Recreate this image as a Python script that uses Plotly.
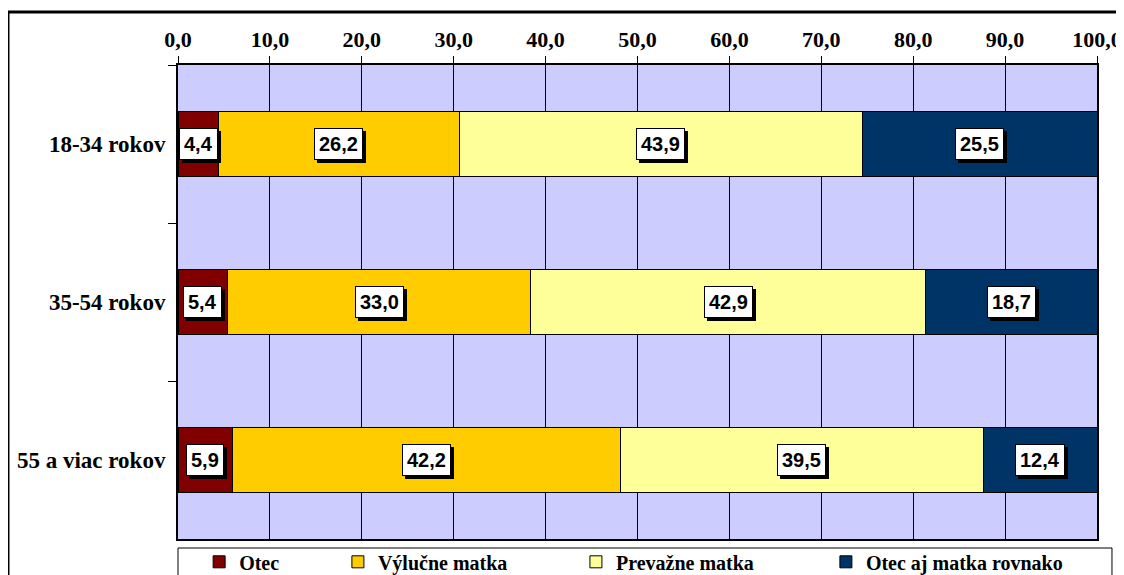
import plotly.graph_objects as go

categories = ["18-34 rokov", "35-54 rokov", "55 a viac rokov"]
series_names = ["Otec", "Výlučne matka", "Prevažne matka", "Otec aj matka rovnako"]
otec = [4.4, 5.4, 5.9]
vylucne_matka = [26.2, 33.0, 42.2]
prevazne_matka = [43.9, 42.9, 39.5]
rovnako = [25.5, 18.7, 12.4]
tick_vals = [0, 10, 20, 30, 40, 50, 60, 70, 80, 90, 100]
tick_text = ["0,0", "10,0", "20,0", "30,0", "40,0", "50,0", "60,0", "70,0", "80,0", "90,0", "100,0"]

series = [otec, vylucne_matka, prevazne_matka, rovnako]
colors = ["#800000", "#FFCC00", "#FFFF99", "#003366"]
legend_ids = ["legend", "legend2", "legend3", "legend4"]
legend_x = [0.023, 0.174, 0.433, 0.705]

SERIF = "Liberation Serif, Times New Roman, serif"
SANS = "Liberation Sans, Arial, sans-serif"

fig = go.Figure()
for name, vals, col, lg in zip(series_names, series, colors, legend_ids):
    fig.add_trace(go.Bar(
        y=categories, x=vals, name=name, orientation="h",
        marker=dict(color=col, line=dict(color="black", width=1)),
        width=0.41, hoverinfo="skip", legend=lg,
    ))

def fmt(v):
    return f"{v:.1f}".replace(".", ",")

annotations = []
for ci, cat in enumerate(categories):
    base = 0.0
    for vals in series:
        v = vals[ci]
        xc = base + v / 2
        base += v
        txt = f"<b>{fmt(v)}</b>"
        annotations.append(dict(
            x=xc, y=cat, xref="x", yref="y", text=txt, showarrow=False,
            font=dict(family=SANS, size=20, color="black"),
            bgcolor="black", bordercolor="black", borderwidth=1, borderpad=4,
            xshift=3, yshift=-3,
        ))
        annotations.append(dict(
            x=xc, y=cat, xref="x", yref="y", text=txt, showarrow=False,
            font=dict(family=SANS, size=20, color="black"),
            bgcolor="white", bordercolor="black", borderwidth=1, borderpad=4,
        ))

legend_font = dict(family=SERIF, size=20, color="black", weight="bold")
layout_legends = {}
for lg, lx in zip(legend_ids, legend_x):
    layout_legends[lg] = dict(
        orientation="h", x=lx, xanchor="left", y=-0.007, yanchor="top",
        bgcolor="rgba(0,0,0,0)", borderwidth=0, font=legend_font,
    )

fig.update_layout(
    width=1124, height=575,
    margin=dict(l=170, r=35, t=57, b=44, autoexpand=False),
    paper_bgcolor="white", plot_bgcolor="#CCCCFF",
    barmode="stack",
    showlegend=True,
    annotations=annotations,
    shapes=[
        dict(type="rect", xref="paper", yref="paper",
             x0=-0.185, x1=1.06, y0=-0.09, y1=1.112,
             line=dict(color="black", width=3), fillcolor="rgba(0,0,0,0)", layer="below"),
        dict(type="rect", xref="paper", yref="paper",
             x0=0.0, x1=1.0163, y0=-0.085, y1=-0.019,
             line=dict(color="black", width=1), fillcolor="white", layer="below"),
    ],
    font=dict(family=SERIF, color="black"),
    **layout_legends,
)

fig.update_xaxes(
    side="top", range=[0, 100], tickvals=tick_vals, ticktext=tick_text,
    tickfont=dict(family=SERIF, size=22, color="black", weight="bold"),
    showgrid=True, gridcolor="black", gridwidth=1,
    showline=True, linecolor="black", linewidth=2, mirror=True,
    ticks="outside", ticklen=7, tickcolor="black", zeroline=False,
)
fig.update_yaxes(
    categoryorder="array", categoryarray=categories, autorange="reversed",
    tickfont=dict(family=SERIF, size=23, color="black", weight="bold"),
    showline=True, linecolor="black", linewidth=2, mirror=True,
    ticks="outside", ticklen=8, tickcolor="black", tickson="boundaries",
    ticklabelstandoff=6, showgrid=False,
)

fig.write_html("out.html")
